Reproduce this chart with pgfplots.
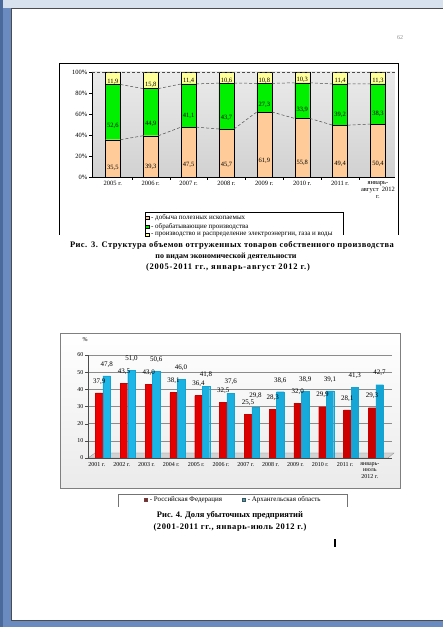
\documentclass[border=0pt]{standalone}
\usepackage{pgfplots}
\pgfplotsset{compat=1.18}
\usepackage{pgfplotstable}
\usepackage{fontspec}
\setmainfont{Liberation Serif}

\definecolor{peach}{HTML}{FFCC99}
\definecolor{lgreen}{HTML}{00F000}
\definecolor{lyellow}{HTML}{FFFF99}
\definecolor{pageblue}{HTML}{6A8BC0}
\definecolor{topband}{HTML}{D8E2EE}
\definecolor{leftdark}{HTML}{4A6A9C}
\definecolor{framegray}{HTML}{7F7F7F}
\definecolor{rfL}{HTML}{F00000}
\definecolor{rfM}{HTML}{FF3030}
\definecolor{rfR}{HTML}{C80000}
\definecolor{aoL}{HTML}{1EB8E8}
\definecolor{aoM}{HTML}{5ADFFF}
\definecolor{aoR}{HTML}{14A4D4}

\pgfplotstableread{
x b m t
0 35.5 52.6 11.9
1 39.3 44.9 15.8
2 47.5 41.1 11.4
3 45.7 43.7 10.6
4 61.9 27.3 10.8
5 55.8 33.9 10.3
6 49.4 39.2 11.4
7 50.4 38.3 11.3
}\structuretable

\pgfplotstableread{
x rf ao
0 37.9 47.8
1 43.5 51.0
2 43.0 50.6
3 38.1 46.0
4 36.4 41.8
5 32.5 37.6
6 25.5 29.8
7 28.3 38.6
8 32.0 38.9
9 29.9 39.1
10 28.1 41.3
11 29.3 42.7
}\losstable

\newcommand{\fa}{\fontsize{6.5}{7}\selectfont}
\newcommand{\fb}{\fontsize{7}{8}\selectfont}
\newcommand{\fc}{\fontsize{6}{6.5}\selectfont}
\newcommand{\capf}{\fontsize{8.5}{10}\selectfont\bfseries}

\begin{document}
\begin{tikzpicture}[x=1pt,y=1pt]
% ---------- page ----------
\fill[pageblue] (0,0) rectangle (443,627);
\fill[topband] (0,619) rectangle (443,627);
\fill[leftdark] (0,0) rectangle (3,627);
\fill[white] (11,7) rectangle (443,619);
\draw[black!70, line width=0.8pt] (443,7) -- (11,7) -- (11,619) -- (443,619);
\node[text=black!45, font=\fc] at (400,589) {62};

% ---------- chart 1 frame ----------
\draw[black, line width=0.6pt] (59,392) -- (59,564) -- (398,564) -- (398,392);
\draw[black, line width=0.5pt] (145,392) -- (145,415) -- (343,415) -- (343,392);

\begin{axis}[
  at={(92pt,450pt)}, anchor=south west,
  scale only axis, width=303pt, height=105pt,
  ybar stacked, bar width=15pt,
  xmin=-0.55, xmax=7.45, ymin=0, ymax=100,
  axis lines*=left,
  axis line style={black, line width=0.5pt},
  axis background/.style={top color=gray!16, bottom color=gray!36},
  /pgf/number format/assume math mode=true,
  xtick={0,...,7},
  xticklabels={2005 г.,2006 г.,2007 г.,2008 г.,2009 г.,2010 г.,2011 г.,{январь-\\август\ \ 2012\\г.}},
  xticklabel style={align=center, font=\fa, inner sep=1pt},
  major x tick style={draw=none},
  minor xtick={0.5,1.5,...,6.5},
  minor x tick style={black},
  minor tick length=3pt,
  ytick={0,20,...,100},
  yticklabel={\pgfmathprintnumber{\tick}\%},
  yticklabel style={font=\fa, inner sep=1.5pt},
  tick align=outside, major tick length=3pt,
  y tick style={black},
  point meta=explicit,
  nodes near coords,
  visualization depends on={rawy*0.2625 \as \halfy},
  nodes near coords style={font=\fa, anchor=center, inner sep=0.5pt, yshift=-\halfy pt,
     /pgf/number format/fixed, /pgf/number format/fixed zerofill,
     /pgf/number format/precision=1, /pgf/number format/use comma},
  every axis plot post/.append style={legend image code/.code={\draw[#1,draw=black,line width=0.4pt] (0pt,-1.7pt) rectangle (3.4pt,1.7pt);}},
  legend style={at={(0.172,-0.324)}, anchor=north west, draw=none, fill=none, font=\fb, inner sep=1pt, row sep=-1.4pt},
  legend cell align=left,
]
\addplot[fill=peach, draw=black, line width=0.4pt] table[x=x,y=b,meta=b] {\structuretable};
\addlegendentry{- добыча полезных ископаемых}
\addplot[fill=lgreen, draw=black, line width=0.4pt] table[x=x,y=m,meta=m] {\structuretable};
\addlegendentry{- обрабатывающие производства}
\addplot[fill=lyellow, draw=black, line width=0.4pt] table[x=x,y=t,meta=t] {\structuretable};
\addlegendentry{- производство и распределение электроэнергии, газа и воды}
\end{axis}

\begin{axis}[
  at={(92pt,450pt)}, anchor=south west,
  scale only axis, width=303pt, height=105pt,
  xmin=-0.55, xmax=7.45, ymin=0, ymax=100,
  hide axis, unbounded coords=jump, clip=false,
]
\addplot[densely dashed, black!70, line width=0.5pt, mark=none] coordinates {
 (0.2,35.5) (0.8,39.3) (1,nan) (1.2,39.3) (1.8,47.5) (2,nan)
 (2.2,47.5) (2.8,45.7) (3,nan) (3.2,45.7) (3.8,61.9) (4,nan)
 (4.2,61.9) (4.8,55.8) (5,nan) (5.2,55.8) (5.8,49.4) (6,nan)
 (6.2,49.4) (6.8,50.4)
};
\addplot[densely dashed, black!70, line width=0.5pt, mark=none] coordinates {
 (0.2,88.1) (0.8,84.2) (1,nan) (1.2,84.2) (1.8,88.6) (2,nan)
 (2.2,88.6) (2.8,89.4) (3,nan) (3.2,89.4) (3.8,89.2) (4,nan)
 (4.2,89.2) (4.8,89.7) (5,nan) (5.2,89.7) (5.8,88.6) (6,nan)
 (6.2,88.6) (6.8,88.7)
};
\addplot[densely dashed, black!70, line width=0.5pt, mark=none] coordinates {
 (-0.55,100) (7.45,100)
};
\end{axis}

% ---------- caption 1 ----------
\node[font=\capf] at (232,382) {\addfontfeatures{LetterSpace=5}\makebox[324pt][s]{Рис. 3. Структура объемов отгруженных товаров собственного производства}};
\node[font=\capf] at (226,371) {\fontsize{8}{9}\selectfont по видам экономической деятельности};
\node[font=\capf] at (228,360) {\addfontfeatures{LetterSpace=9}(2005-2011 гг., январь-август 2012 г.)};

% ---------- chart 2 frame ----------
\shade[top color=white, bottom color=gray!16] (60,139) rectangle (400,294);
\draw[framegray, line width=0.8pt] (60,139) rectangle (400,294);
\fill[gray!35] (88,169) -- (95,174) -- (394,174) -- (388,169) -- cycle;
\draw[black!45, line width=0.3pt] (88,169) -- (95,174) -- (394,174) -- (388,169) -- cycle;
\draw[black!55, line width=0.8pt] (118,120) -- (118,133) -- (347,133) -- (347,120);
\node[font=\fc] at (85,287) {\%};

\begin{axis}[
  at={(88pt,169pt)}, anchor=south west,
  scale only axis, width=304pt, height=103pt,
  ybar=0pt, bar width=7.5pt,
  xmin=-0.6, xmax=11.65, ymin=0, ymax=60,
  axis lines*=left,
  axis line style={black!70, line width=0.5pt},
  ymajorgrids, grid style={black!45, line width=0.4pt},
  /pgf/number format/assume math mode=true,
  ytick={0,10,...,60},
  yticklabel style={font=\fc, inner sep=1.5pt},
  xtick={0,...,11},
  xticklabels={2001 г.,2002 г.,2003 г.,2004 г.,2005 г.,2006 г.,2007 г.,2008 г.,2009 г.,2010 г.,2011 г.,{январь-\\июль\\2012 г.}},
  xticklabel style={align=center, font=\fc, inner sep=1pt, xshift=-6pt},
  x tick style={draw=none},
  y tick style={black!70},
  tick align=outside, major tick length=3pt,
  nodes near coords,
  nodes near coords style={font=\fb, inner sep=0.5pt, yshift=8pt,
     /pgf/number format/fixed, /pgf/number format/fixed zerofill,
     /pgf/number format/precision=1, /pgf/number format/use comma},
  every axis plot post/.append style={legend image code/.code={\draw[#1,draw=black!70,line width=0.4pt] (0pt,-1.7pt) rectangle (3.4pt,1.7pt);}},
  legend columns=2,
  legend style={at={(0.478,-0.345)}, anchor=north, draw=none, fill=none, font=\fb, inner sep=1pt,
     /tikz/every even column/.style={column sep=18pt}},
]
\addplot[left color=rfL, middle color=rfM, right color=rfR, draw=rfR, line width=0.3pt] table[x=x,y=rf] {\losstable};
\addlegendentry{- Российская Федерация}
\addplot[left color=aoL, middle color=aoM, right color=aoR, draw=aoR, line width=0.3pt] table[x=x,y=ao] {\losstable};
\addlegendentry{- Архангельская область}
\end{axis}

% ---------- caption 2 ----------
\node[font=\capf] at (230,112) {Рис. 4. Доля убыточных предприятий};
\node[font=\capf] at (230,100) {\addfontfeatures{LetterSpace=7}(2001-2011 гг., январь-июль 2012 г.)};

% text cursor
\draw[black, line width=1.3pt] (335,80) -- (335,88);
\end{tikzpicture}
\end{document}
